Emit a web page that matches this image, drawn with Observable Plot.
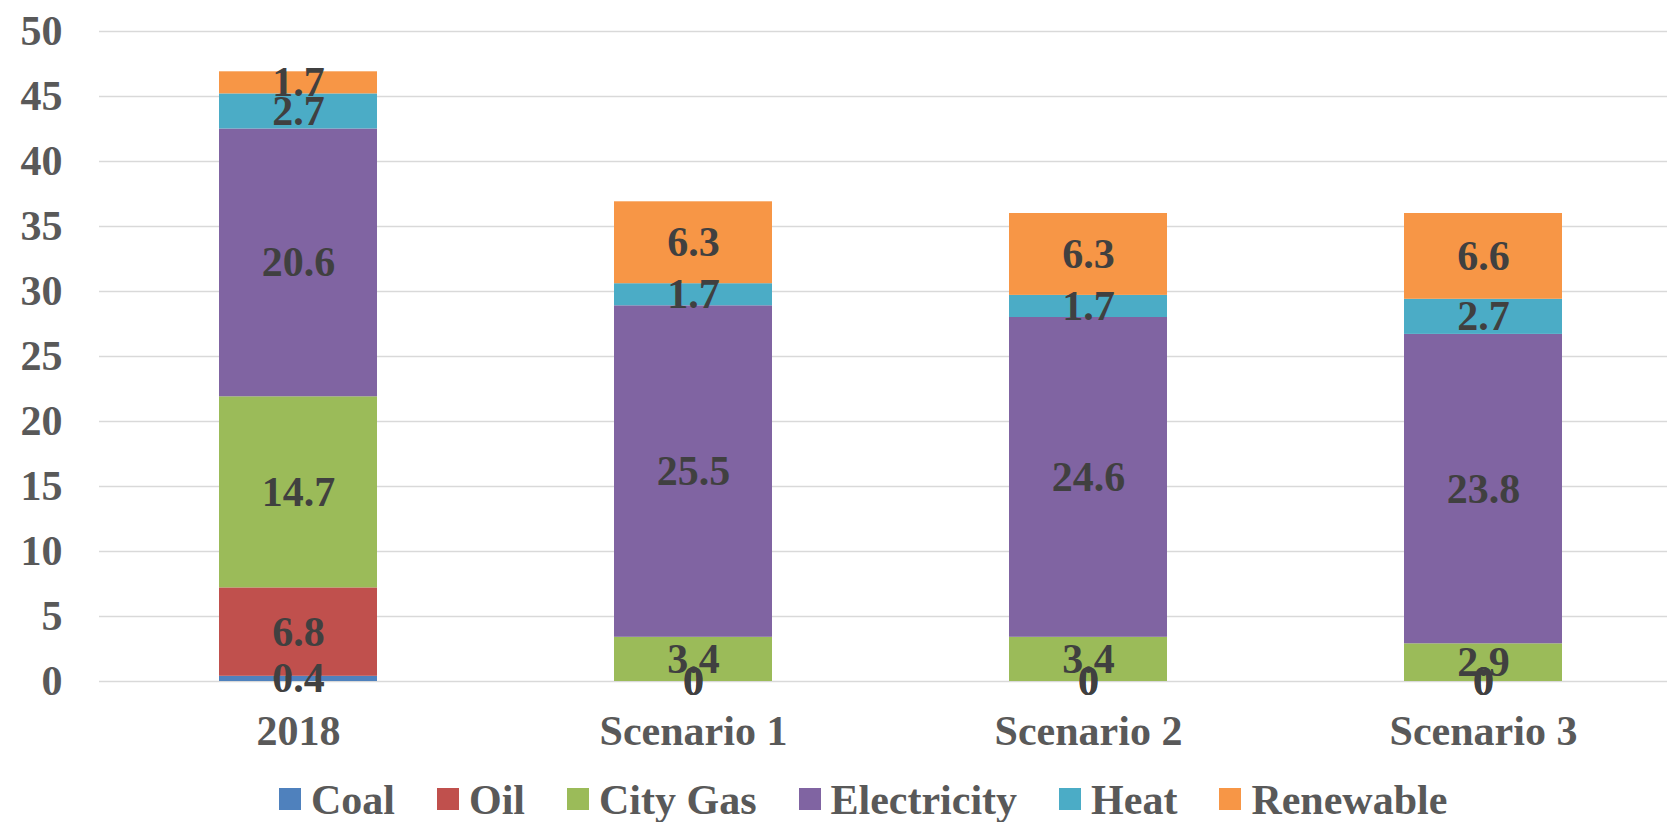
<!DOCTYPE html>
<html>
<head>
<meta charset="utf-8">
<script src="https://cdn.jsdelivr.net/npm/d3@7"></script>
<script src="https://cdn.jsdelivr.net/npm/@observablehq/plot@0.6"></script>
<style>
  html, body { margin: 0; padding: 0; background: #fff; }
  #wrap { position: relative; width: 1667px; height: 822px; overflow: hidden; font-family: "Liberation Serif", "Times New Roman", Times, "DejaVu Serif", serif; }
  #wrap svg text { font-family: "Liberation Serif", "Times New Roman", Times, "DejaVu Serif", serif !important; }
  #legend { position: absolute; left: 279px; top: 776px; display: flex; align-items: center; height: 48px; line-height: 48px; font-size: 42px; font-weight: bold; color: #595959; white-space: nowrap; }
  .item { display: flex; align-items: center; margin-right: 42px; }
  .sw { width: 22px; height: 22px; margin-right: 10px; position: relative; top: -1px; }
</style>
</head>
<body>
<div id="wrap"></div>
<script>
const categories = ["2018", "Scenario 1", "Scenario 2", "Scenario 3"];
const fuels = ["Coal", "Oil", "City Gas", "Electricity", "Heat", "Renewable"];
const coal        = [0.4, 0, 0, 0];
const oil         = [6.8, 0, 0, 0];
const cityGas     = [14.7, 3.4, 3.4, 2.9];
const electricity = [20.6, 25.5, 24.6, 23.8];
const heat        = [2.7, 1.7, 1.7, 2.7];
const renewable   = [1.7, 6.3, 6.3, 6.6];
const fuelColors  = ["#4F81BD", "#C0504D", "#9BBB59", "#8064A2", "#4BACC6", "#F79646"];
const yTicks = [0, 5, 10, 15, 20, 25, 30, 35, 40, 45, 50];

const series = [coal, oil, cityGas, electricity, heat, renewable];
const data = [];
fuels.forEach((f, i) => categories.forEach((c, j) => data.push({category: c, fuel: f, value: series[i][j]})));

const font = "'Liberation Serif', 'Times New Roman', Times, 'DejaVu Serif', serif";
const W = 1667, H = 770;

const chart = Plot.plot({
  width: W,
  height: H,
  marginTop: 31,
  marginBottom: 89,
  marginLeft: 99,
  marginRight: 0,
  style: {fontFamily: font, color: "#595959", background: "white", overflow: "visible"},
  x: {domain: categories, range: [99, 99 + 4 * 395.75], paddingInner: 0.6, paddingOuter: 0.3},
  y: {domain: [0, 50]},
  color: {domain: fuels, range: fuelColors},
  marks: [
    Plot.ruleY(yTicks, {stroke: "#d9d9d9", strokeWidth: 1.3}),
    Plot.barY(data, Plot.stackY({x: "category", y: "value", fill: "fuel", z: "fuel", order: fuels})),
    Plot.text(data, Plot.stackY({x: "category", y: "value", z: "fuel", order: fuels, text: d => String(d.value), fill: "#404040", fontSize: 42, fontWeight: "bold", fontFamily: font})),
    Plot.axisY(yTicks, {tickSize: 0, tickPadding: 37, fontSize: 42, fontWeight: "bold", fontFamily: font, label: null}),
    Plot.axisX({tickSize: 0, tickPadding: 34, fontSize: 42, fontWeight: "bold", fontFamily: font, label: null})
  ]
});
document.getElementById("wrap").appendChild(chart);

const legend = document.createElement("div");
legend.id = "legend";
fuels.forEach((f, i) => {
  const item = document.createElement("div");
  item.className = "item";
  const sw = document.createElement("span");
  sw.className = "sw";
  sw.style.background = fuelColors[i];
  const t = document.createElement("span");
  t.textContent = f;
  item.appendChild(sw);
  item.appendChild(t);
  legend.appendChild(item);
});
document.getElementById("wrap").appendChild(legend);
</script>
</body>
</html>
